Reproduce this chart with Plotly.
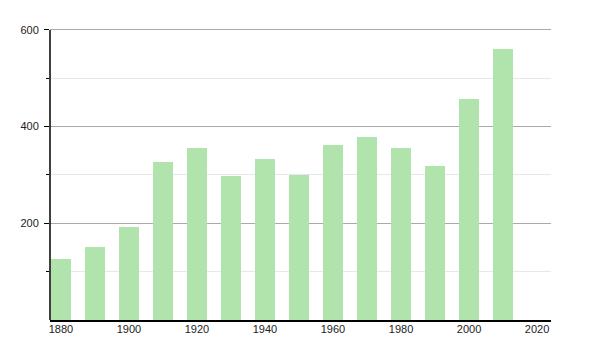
import plotly.graph_objects as go

years = [1880, 1890, 1900, 1910, 1920, 1930, 1940, 1950, 1960, 1970, 1980, 1990, 2000, 2010]
values = [127, 150, 193, 326, 356, 297, 332, 300, 362, 378, 355, 318, 457, 560]
x_ticks = [1880, 1900, 1920, 1940, 1960, 1980, 2000, 2020]
y_ticks = [200, 400, 600]

fig = go.Figure(go.Bar(
    x=years, y=values, width=6,
    marker=dict(color="rgb(176,228,172)", line=dict(width=0)),
    hoverinfo="x+y",
))

fig.update_layout(
    width=600, height=350,
    margin=dict(l=50, r=49, t=27, b=30),
    plot_bgcolor="white", paper_bgcolor="white",
    font=dict(family="Liberation Sans, Arial, sans-serif", size=11, color="#222"),
    showlegend=False,
    bargap=0,
)
fig.update_xaxes(
    range=[1876.8, 2024.1],
    tickvals=x_ticks, ticktext=[str(v) for v in x_ticks],
    showgrid=False, showline=True, linecolor="black", linewidth=1.5,
    ticks="", zeroline=False, ticklabelstandoff=-2,
)
fig.update_yaxes(
    range=[0, 606],
    tickvals=y_ticks, ticktext=[str(v) for v in y_ticks],
    showgrid=True, gridcolor="#aaaaaa", gridwidth=1,
    showline=False,
    ticks="outside", ticklen=5, tickcolor="black", tickwidth=1,
    ticklabelstandoff=3,
    zeroline=False,
    minor=dict(tickvals=[100, 300, 500], ticks="outside", ticklen=3,
               tickcolor="black", showgrid=True, gridcolor="#e8e8e8", gridwidth=1),
)
# vertical axis line from 0 to 600 only
fig.add_shape(type="line", xref="paper", yref="y", x0=0, x1=0, y0=0, y1=600,
              line=dict(color="black", width=1.5))

fig.write_html("out.html")
